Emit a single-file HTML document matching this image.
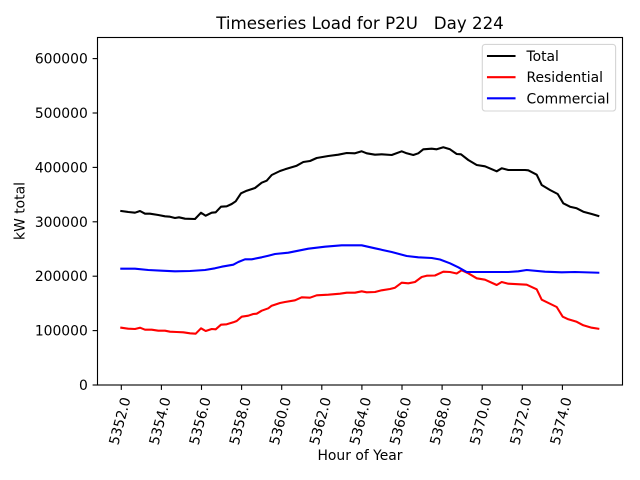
<!DOCTYPE html>
<html><head><meta charset="utf-8"><style>
html,body{margin:0;padding:0;background:#fff;}
svg{display:block;}
text{font-family:"DejaVu Sans","Liberation Sans",sans-serif;fill:#000;}
</style></head><body>
<svg width="640" height="480" viewBox="0 0 640 480" xmlns="http://www.w3.org/2000/svg">
<rect x="0" y="0" width="640" height="480" fill="#fff"/>
<!-- title -->
<text x="360" y="29" font-size="16.67" text-anchor="middle" style="white-space:pre">Timeseries Load for P2U   Day 224</text>

<!-- series -->
<g fill="none" stroke-width="2.08" stroke-linejoin="round" stroke-linecap="square">
<polyline stroke="#000000" points="121.3,211 128.3,212 135,212.7 140,211 145,213.7 150,213.7 158.3,215 165,216.3 170,216.7 175,218 179,217.3 185,218.7 195,219 201,212.7 205.7,215.7 211.7,212.7 215.7,212.3 221,206.7 226.7,206.3 231.7,204 235.7,201.3 241,193.3 246.7,190.7 255,188 261.7,182.7 266.7,180.7 271.7,175 280,171 285,169.3 296.7,165.7 303.3,162 310,161 316.7,158 328.3,156 338.3,154.7 346.7,153 355,153.3 361.7,151.3 366.7,153.3 375,154.7 381.7,154.3 391.7,155 401.7,151.3 406.7,153.3 413.3,155 418.3,153.3 423.3,149.3 431.7,148.7 436.7,149.3 443.3,147.3 450,149.3 456.7,154 461,154.3 468.3,160 476.7,165 485,166.3 496.7,171.3 501.7,168.3 508.3,170 525,170 528.3,170.3 536.7,174.7 541.7,185 550,190 557.7,194 563.3,203.3 570,206.7 576.7,208.3 583.3,211.7 591.7,214 598.3,216"/>
<polyline stroke="#ff0000" points="121.3,327.7 128.3,328.7 135,329 140,327.7 145,329.7 151.7,329.7 158.3,330.7 165,330.7 170,331.7 176.7,332 183.3,332.3 190,333.3 195.7,333.7 201,328.3 205.7,331 211.7,329 215.7,329.3 221,324.7 226.7,324.3 233.3,322.3 236.7,321 241.7,316.7 248.3,315.7 253.3,314 256.7,313.7 261.7,310.7 268.3,308.3 271.7,305.7 280,303 285,302 295,300.3 301.7,297.3 310,297.7 316.7,295.3 328.3,294.7 340,293.7 346.7,292.7 355,292.7 361.7,291.3 366.7,292.3 375,292 381.7,290.3 390,289 395,287.7 401.7,282.7 408.3,283.3 415,282 421.7,277 426.7,275.7 435,275.5 443.3,271.7 450,272 456.7,273.5 461.7,270.3 468.3,273.3 476.7,278.3 485,279.7 496.7,285 501.7,282 508.3,283.7 526.7,284.7 536.7,289.3 541.7,299.7 556.7,307 562.7,316.7 568.3,319.3 576.7,321.8 583.3,325.3 591.7,327.7 598.3,328.7"/>
<polyline stroke="#0000ff" points="121.3,268.7 135,268.7 148.3,270 161.7,270.7 175,271.3 190,271 205,270 215,268.3 221.7,266.7 233.3,264.7 238.3,262 245,259.3 251.7,259.3 261.7,257.3 268.3,255.7 275,254 288.3,252.7 308.3,248.7 325,246.7 341.7,245.3 361.7,245.3 375,248.3 391.7,252 406.7,256 418.3,257.3 431.7,258 440,259.5 450,263.3 458.3,267.3 466.7,272 485,272 508.3,272 518.3,271.3 526.7,270 545,271.7 561.7,272.3 575,272 598.3,272.7"/>
</g>

<!-- axes frame -->
<rect x="97.5" y="37.5" width="525" height="347.5" fill="none" stroke="#000" stroke-width="1.11"/>

<!-- y ticks -->
<g stroke="#000" stroke-width="1.11">
<line x1="92.6" y1="385" x2="97.5" y2="385"/>
<line x1="92.6" y1="330.6" x2="97.5" y2="330.6"/>
<line x1="92.6" y1="276.2" x2="97.5" y2="276.2"/>
<line x1="92.6" y1="221.8" x2="97.5" y2="221.8"/>
<line x1="92.6" y1="167.4" x2="97.5" y2="167.4"/>
<line x1="92.6" y1="113" x2="97.5" y2="113"/>
<line x1="92.6" y1="58.6" x2="97.5" y2="58.6"/>
</g>
<g font-size="13.89" text-anchor="end">
<text x="87.8" y="390">0</text>
<text x="87.8" y="335.6">100000</text>
<text x="87.8" y="281.2">200000</text>
<text x="87.8" y="226.8">300000</text>
<text x="87.8" y="172.4">400000</text>
<text x="87.8" y="118">500000</text>
<text x="87.8" y="63.6">600000</text>
</g>

<!-- x ticks -->
<g stroke="#000" stroke-width="1.11">
<line x1="121.3" y1="385" x2="121.3" y2="389.9"/>
<line x1="161.4" y1="385" x2="161.4" y2="389.9"/>
<line x1="201.5" y1="385" x2="201.5" y2="389.9"/>
<line x1="241.6" y1="385" x2="241.6" y2="389.9"/>
<line x1="281.7" y1="385" x2="281.7" y2="389.9"/>
<line x1="321.8" y1="385" x2="321.8" y2="389.9"/>
<line x1="361.9" y1="385" x2="361.9" y2="389.9"/>
<line x1="402" y1="385" x2="402" y2="389.9"/>
<line x1="442.1" y1="385" x2="442.1" y2="389.9"/>
<line x1="482.2" y1="385" x2="482.2" y2="389.9"/>
<line x1="522.3" y1="385" x2="522.3" y2="389.9"/>
<line x1="562.4" y1="385" x2="562.4" y2="389.9"/>
</g>
<g font-size="13.89" text-anchor="middle">
<text transform="translate(119.6,421) rotate(-75)" x="0" y="5">5352.0</text>
<text transform="translate(159.7,421) rotate(-75)" x="0" y="5">5354.0</text>
<text transform="translate(199.8,421) rotate(-75)" x="0" y="5">5356.0</text>
<text transform="translate(239.9,421) rotate(-75)" x="0" y="5">5358.0</text>
<text transform="translate(280,421) rotate(-75)" x="0" y="5">5360.0</text>
<text transform="translate(320.1,421) rotate(-75)" x="0" y="5">5362.0</text>
<text transform="translate(360.2,421) rotate(-75)" x="0" y="5">5364.0</text>
<text transform="translate(400.3,421) rotate(-75)" x="0" y="5">5366.0</text>
<text transform="translate(440.4,421) rotate(-75)" x="0" y="5">5368.0</text>
<text transform="translate(480.5,421) rotate(-75)" x="0" y="5">5370.0</text>
<text transform="translate(520.6,421) rotate(-75)" x="0" y="5">5372.0</text>
<text transform="translate(560.7,421) rotate(-75)" x="0" y="5">5374.0</text>
</g>

<!-- axis labels -->
<text x="360" y="460" font-size="13.89" text-anchor="middle">Hour of Year</text>
<text transform="translate(24.5,211) rotate(-90)" x="0" y="0" font-size="13.89" text-anchor="middle">kW total</text>

<!-- legend -->
<rect x="482.3" y="44.4" width="133.3" height="66.6" rx="2.8" ry="2.8" fill="#fff" fill-opacity="0.8" stroke="#d5d5d5" stroke-width="1.11"/>
<g stroke-width="2.08" stroke-linecap="square">
<line x1="488" y1="56" x2="514.5" y2="56" stroke="#000000"/>
<line x1="488" y1="77.2" x2="514.5" y2="77.2" stroke="#ff0000"/>
<line x1="488" y1="98.3" x2="514.5" y2="98.3" stroke="#0000ff"/>
</g>
<g font-size="13.89">
<text x="526.5" y="61">Total</text>
<text x="526.5" y="82.2">Residential</text>
<text x="526.5" y="103.3">Commercial</text>
</g>
</svg>
</body></html>
